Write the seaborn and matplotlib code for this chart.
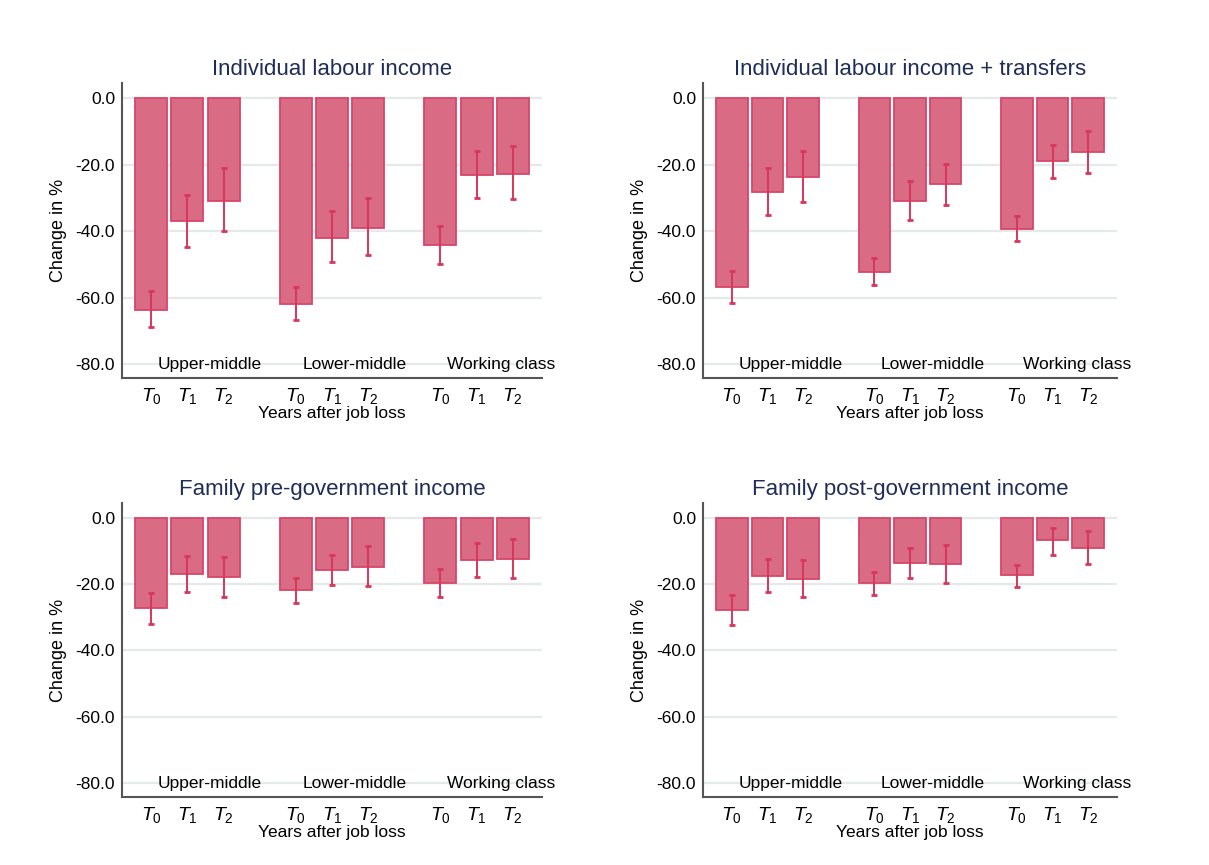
import numpy as np
import pandas as pd
import matplotlib
matplotlib.use("Agg")
import matplotlib.pyplot as plt
import seaborn as sns

# Income classes and years after job loss
classes = ["Upper-middle", "Lower-middle", "Working class"]
periods = ["$T_0$", "$T_1$", "$T_2$"]

# Panel titles
titles = [
    "Individual labour income",
    "Individual labour income + transfers",
    "Family pre-government income",
    "Family post-government income",
]

# Point estimates (change in %), ordered class by class, T0..T2
est_labour = [-63.8, -37.1, -31.0, -62.0, -42.1, -39.1, -44.3, -23.2, -22.8]
lo_labour = [-69.0, -44.7, -40.1, -66.9, -49.2, -47.1, -49.9, -30.1, -30.5]
hi_labour = [-57.9, -29.1, -21.0, -56.7, -34.0, -30.2, -38.5, -16.0, -14.5]

est_transfers = [-56.8, -28.3, -23.8, -52.2, -31.0, -25.9, -39.3, -19.0, -16.3]
lo_transfers = [-61.5, -35.2, -31.3, -56.3, -36.8, -32.1, -43.1, -24.2, -22.5]
hi_transfers = [-51.9, -21.0, -15.9, -48.0, -25.0, -19.7, -35.4, -14.0, -10.0]

est_family_pre = [-27.2, -16.9, -17.9, -21.7, -15.6, -14.7, -19.7, -12.8, -12.4]
lo_family_pre = [-31.9, -22.5, -23.9, -25.7, -20.4, -20.5, -24.0, -17.9, -18.2]
hi_family_pre = [-22.7, -11.4, -11.7, -18.0, -11.1, -8.6, -15.5, -7.7, -6.4]

est_family_post = [-27.7, -17.4, -18.3, -19.7, -13.6, -14.0, -17.2, -6.6, -9.0]
lo_family_post = [-32.3, -22.5, -23.9, -23.3, -18.1, -19.6, -20.8, -11.2, -14.0]
hi_family_post = [-23.3, -12.3, -12.7, -16.3, -9.2, -8.3, -14.2, -3.1, -4.1]

panels = [
    (est_labour, lo_labour, hi_labour),
    (est_transfers, lo_transfers, hi_transfers),
    (est_family_pre, lo_family_pre, hi_family_pre),
    (est_family_post, lo_family_post, hi_family_post),
]

yticks = [0, -20, -40, -60, -80]

sns.set_theme(style="white")
plt.rcParams["font.family"] = ["Liberation Sans", "DejaVu Sans"]
plt.rcParams["mathtext.fontset"] = "custom"
plt.rcParams["mathtext.rm"] = "Liberation Sans"
plt.rcParams["mathtext.it"] = "Liberation Sans:italic"
plt.rcParams["text.color"] = "black"
plt.rcParams["axes.labelcolor"] = "black"
plt.rcParams["xtick.color"] = "black"
plt.rcParams["ytick.color"] = "black"

bar_fill = "#d96b84"
bar_edge = "#d7456a"
err_color = "#d8365c"
title_color = "#1f2d57"
grid_color = "#e4eaea"
spine_color = "#555555"

fig = plt.figure(figsize=(12.09, 8.65), dpi=100)
axes_rects = [
    [0.1009, 0.563, 0.3474, 0.341],
    [0.5815, 0.563, 0.3424, 0.341],
    [0.1009, 0.0786, 0.3474, 0.340],
    [0.5815, 0.0786, 0.3424, 0.340],
]

# Bar slots: three per class with one empty slot between classes
positions = []
for g in range(len(classes)):
    for p in range(len(periods)):
        positions.append(g * (len(periods) + 1) + p)

for rect, title, (est, lo, hi) in zip(axes_rects, titles, panels):
    ax = fig.add_axes(rect)
    df = pd.DataFrame({
        "pos": positions,
        "est": est,
        "lo": lo,
        "hi": hi,
        "cls": np.repeat(classes, len(periods)),
        "period": periods * len(classes),
    })
    for yv in yticks:
        ax.axhline(yv, color=grid_color, lw=1.6, zorder=0)
    sns.barplot(data=df, x="pos", y="est", native_scale=True, width=0.885,
                color=bar_fill, saturation=1, edgecolor=bar_edge, linewidth=1.3,
                errorbar=None, ax=ax, zorder=2)
    err = np.vstack([df["est"] - df["lo"], df["hi"] - df["est"]])
    ax.errorbar(df["pos"], df["est"], yerr=err, fmt="none", ecolor=err_color,
                elinewidth=1.4, capsize=2.5, capthick=2, zorder=3)

    for g, cls in enumerate(classes):
        ax.text(g * (len(periods) + 1) + 0.18, -80, cls, ha="left", va="center",
                fontsize=12.5, color="black", zorder=4, clip_on=False)

    ax.set_xlim(-0.81, positions[-1] + 0.81)
    ax.set_ylim(-84.2, 4.5)
    ax.set_yticks(yticks)
    ax.set_yticklabels([f"{v:.1f}" for v in yticks], fontsize=12.5)
    ax.set_xticks(positions)
    ax.set_xticklabels(df["period"], fontsize=14)
    ax.tick_params(axis="both", length=0, pad=5)
    ax.tick_params(axis="x", pad=6)
    ax.set_xlabel("Years after job loss", fontsize=12.5, labelpad=0)
    ax.set_ylabel("Change in %", fontsize=13, labelpad=6)
    ax.set_title(title, fontsize=16, color=title_color, pad=6)
    ax.grid(False)
    for side in ["top", "right"]:
        ax.spines[side].set_visible(False)
    for side in ["left", "bottom"]:
        ax.spines[side].set_color(spine_color)
        ax.spines[side].set_linewidth(1.5)

fig.savefig("out.png", dpi=100, facecolor="white")
